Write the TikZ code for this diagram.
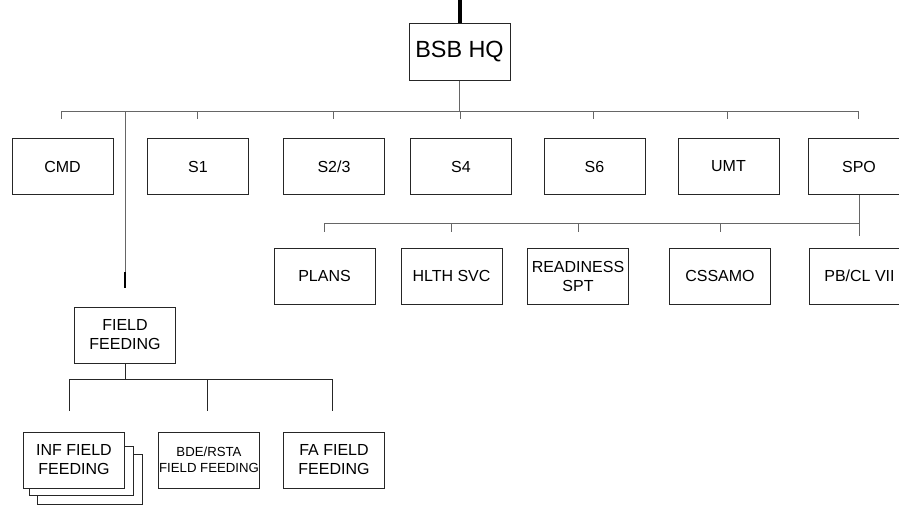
\documentclass[tikz,border=0pt]{standalone}
\usepackage{fontspec}
\setmainfont{Liberation Sans}
\usetikzlibrary{calc}
\begin{document}
\begin{tikzpicture}[x=1pt,y=-1pt,
  box/.style={draw=black!85,line width=1pt,fill=white,minimum width=101pt,minimum height=56pt,inner sep=0pt,align=center,font=\fontsize{16}{19}\selectfont},
  small/.style={font=\fontsize{13.2}{15.5}\selectfont},
  big/.style={font=\fontsize{23.4}{27}\selectfont,minimum height=57pt},
  conn/.style={draw=black!60,line width=1pt},
  fconn/.style={draw=black!85,line width=1pt},
  stackline/.style={draw=black!85,line width=1pt,fill=white}]
\useasboundingbox (0,0) rectangle (899,506);
\clip (0,0) rectangle (899,506);
% top level
\node[box,big] (hq) at (459.5,51.5) {BSB HQ};
\coordinate (top) at (459.5,0);
\draw[line width=4pt] (top) -- (hq.north);
% row 1
\node[box] (cmd) at (62.5,166.5) {CMD};
\node[box] (s1) at (198,166.5) {S1};
\node[box] (s23) at (334,166.5) {S2\smash{/}3};
\node[box] (s4) at (461,166.5) {S4};
\node[box] (s6) at (594.5,166.5) {S6};
\node[box] (umt) at (728.5,166.5) {UMT};
\node[box] (spo) at (859,166.5) {SPO};
\coordinate (bar1) at (0,111);
\coordinate (bar1end) at (125,288);
\draw[conn] (hq.south) -- (hq.south |- bar1);
\draw[conn] ([xshift=-1.5pt]cmd.north |- bar1) -- (spo.north |- bar1);
\foreach \n in {cmd,s1,s23,s4,s6,umt,spo}{
  \draw[conn] ([xshift=-1pt]\n.north |- bar1) -- ([xshift=-1pt,yshift=19pt]\n.north);
}
\draw[conn] (bar1end |- bar1) -- ([yshift=16pt]bar1end);
\draw[line width=1.8pt] ([yshift=16pt]bar1end) -- (bar1end);
% row 2
\node[box] (plans) at (324.5,276) {PLANS};
\node[box] (hlth) at (451.5,276) {HLTH SVC};
\node[box] (ready) at (578,276) {READINESS\\SPT};
\node[box] (cssamo) at (720,276) {CSSAMO};
\node[box] (pbcl) at (859.5,276) {PB\smash{/}CL VII};
\coordinate (bar2) at (0,223);
\coordinate (spoend) at (859,236);
\draw[conn] (spo.south) -- (spoend);
\draw[conn] (plans.north |- bar2) -- (spo.south |- bar2);
\foreach \n in {plans,hlth,ready,cssamo}{
  \draw[conn] (\n.north |- bar2) -- ([yshift=16pt]\n.north);
}
% field feeding
\node[box] (ff) at (125,335) {FIELD\\FEEDING};
\coordinate (bar3) at (0,379);
\draw[fconn] (ff.south) -- (ff.south |- bar3);
% stacked INF
\node[box] (inf) at (74,460) {INF FIELD\\FEEDING};
\draw[stackline] ($(inf.north east)+(0,23)$) -- ++(17,0) -- ++(0,50) -- ++(-105,0) -- ++(0,-9);
\draw[stackline] ($(inf.north east)+(0,15)$) -- ++(8,0) -- ++(0,49) -- ++(-104,0) -- ++(0,-8);
\node[box] at (inf) {INF FIELD\\FEEDING};
\node[box,small] (bde) at (209,460) {BDE/RSTA\\FIELD FEEDING};
\node[box] (fa) at (334,460) {FA FIELD\\FEEDING};
\draw[fconn] ([xshift=-5pt]inf.north |- bar3) -- ([xshift=-2pt]fa.north |- bar3);
\draw[fconn] ([xshift=-5pt]inf.north |- bar3) -- ([xshift=-5pt,yshift=21pt]inf.north);
\draw[fconn] ([xshift=-2pt]bde.north |- bar3) -- ([xshift=-2pt,yshift=21pt]bde.north);
\draw[fconn] ([xshift=-2pt]fa.north |- bar3) -- ([xshift=-2pt,yshift=21pt]fa.north);
\end{tikzpicture}
\end{document}
